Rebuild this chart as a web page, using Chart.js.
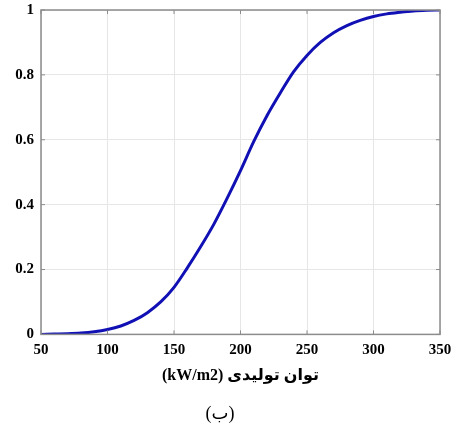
<!DOCTYPE html>
<html>
<head>
<meta charset="utf-8">
<script src="https://cdn.jsdelivr.net/npm/chart.js@4"></script>
<style>
  html, body { margin: 0; padding: 0; background: #fff; }
  #wrap { width: 452px; height: 425px; }
</style>
</head>
<body>
<div id="wrap"><canvas id="cdfChart" width="452" height="425"></canvas></div>
<script>
// power output (kW/m2) and cumulative probability
const powerValues = [50, 60, 70, 80, 90, 100, 110, 120, 130, 140, 150, 160, 170, 180, 190, 200,
                     210, 220, 230, 240, 250, 260, 270, 280, 290, 300, 310, 320, 330, 340, 350];
const cdfValues = [0, 0.001, 0.002, 0.004, 0.008, 0.015, 0.026, 0.043, 0.067, 0.1, 0.145, 0.205,
                   0.27, 0.34, 0.42, 0.505, 0.595, 0.675, 0.745, 0.81, 0.86, 0.9, 0.93, 0.952,
                   0.968, 0.98, 0.988, 0.993, 0.997, 0.999, 1];
const xTitle = 'توان تولیدی (kW/m2)';
const captionText = '(ب)';

const tickFont = { family: '"Liberation Serif", "Times New Roman", serif', size: 15, weight: 'bold' };
const frameColor = '#8c8c8c';

// box round the plot + small inward ticks, like the original figure
const framePlugin = {
  id: 'frame',
  beforeDraw(chart) {
    chart.ctx.direction = 'rtl';
  },
  afterDatasetsDraw(chart) {
    const { ctx, chartArea: a, scales } = chart;
    ctx.save();
    ctx.strokeStyle = frameColor;
    ctx.lineWidth = 1.5;
    ctx.strokeRect(a.left, a.top, a.right - a.left, a.bottom - a.top);
    ctx.lineWidth = 1;
    scales.x.ticks.forEach(t => {
      const px = scales.x.getPixelForValue(t.value);
      ctx.beginPath();
      ctx.moveTo(px, a.bottom); ctx.lineTo(px, a.bottom - 4);
      ctx.moveTo(px, a.top); ctx.lineTo(px, a.top + 4);
      ctx.stroke();
    });
    scales.y.ticks.forEach(t => {
      const py = scales.y.getPixelForValue(t.value);
      ctx.beginPath();
      ctx.moveTo(a.left, py); ctx.lineTo(a.left + 4, py);
      ctx.moveTo(a.right, py); ctx.lineTo(a.right - 4, py);
      ctx.stroke();
    });
    ctx.restore();
  }
};

const ctx = document.getElementById('cdfChart').getContext('2d');
new Chart(ctx, {
  type: 'line',
  data: {
    datasets: [{
      data: powerValues.map((p, i) => ({ x: p, y: cdfValues[i] })),
      borderColor: '#1010b4',
      borderWidth: 3,
      pointRadius: 0,
      cubicInterpolationMode: 'monotone',
      fill: false
    }]
  },
  options: {
    responsive: false,
    animation: false,
    layout: { padding: { top: 10, right: 12, left: 0, bottom: 0 } },
    plugins: {
      legend: { display: false },
      tooltip: { enabled: false },
      title: {
        display: true,
        position: 'bottom',
        text: captionText,
        color: '#000',
        font: { family: '"Liberation Serif", "DejaVu Sans", serif', size: 18, weight: 'normal' },
        padding: { top: 8, bottom: 0 }
      }
    },
    scales: {
      x: {
        type: 'linear',
        min: 50,
        max: 350,
        ticks: { stepSize: 50, color: '#000', font: tickFont, padding: 7, maxRotation: 0 },
        grid: { color: '#e6e6e6', drawTicks: false },
        border: { display: false },
        title: {
          display: true,
          text: xTitle,
          color: '#000',
          font: { family: '"Liberation Serif", "DejaVu Sans", serif', size: 16, weight: 'bold' },
          padding: { top: 0, bottom: 10 }
        },
        afterFit: s => { s.height = 61; s.paddingLeft = 0; s.paddingRight = 0; }
      },
      y: {
        min: 0,
        max: 1,
        ticks: {
          stepSize: 0.2,
          color: '#000',
          font: tickFont,
          padding: 7,
          callback: v => (Math.round(v * 10) / 10).toString()
        },
        grid: { color: '#e6e6e6', drawTicks: false },
        border: { display: false },
        afterFit: s => { s.width = 41; s.paddingTop = 0; s.paddingBottom = 0; }
      }
    }
  },
  plugins: [framePlugin]
});
</script>
</body>
</html>
